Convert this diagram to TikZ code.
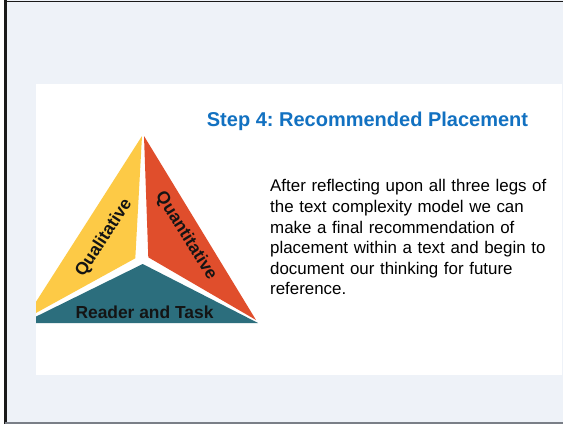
\documentclass[tikz,border=0pt]{standalone}
\usepackage{fontspec}
\setmainfont{Liberation Sans}
\usepackage{tikz}
\usetikzlibrary{positioning}
\frenchspacing
\definecolor{slideBg}{HTML}{EEF2F8}
\definecolor{frameDark}{HTML}{1A1A1A}
\definecolor{frameGrey}{HTML}{7A7F87}
\definecolor{titleBlue}{HTML}{1271C1}
\definecolor{legYellow}{HTML}{FDCA46}
\definecolor{legRed}{HTML}{E04E2C}
\definecolor{legTeal}{HTML}{2C6E7D}
\definecolor{textDark}{HTML}{141414}

\begin{document}
\begin{tikzpicture}[
      x=1pt, y=-1pt,
      leglabel/.style={
        text=textDark, inner sep=0pt,
        font=\fontsize{17.4pt}{19pt}\selectfont\bfseries
      },
      titletext/.style={
        text=titleBlue, inner sep=0pt,
        font=\fontsize{20pt}{24pt}\selectfont\bfseries
      },
      bodytext/.style={
        text=black, inner sep=0pt, align=left, text width=290pt,
        font=\fontsize{16.9pt}{20.6pt}\selectfont
      }
    ]
      \useasboundingbox (0,0) rectangle (563,424);
      % slide background and frame
      \fill[slideBg] (5,0) rectangle (563,424);
      \draw[frameDark, line width=1.6pt] (4,1.5) -- (563,1.5);
      \draw[frameDark, line width=2.4pt] (5.5,0) -- (5.5,424);
      \draw[frameGrey, line width=2pt] (5,423) -- (563,423);
      \fill[white] (36,84) rectangle (562,375);

      % the three legs, cut off at the panel's left edge
      \begin{scope}
        \clip (36,84) rectangle (562,375);
        \fill[legYellow] (142,136) -- (135.3,258.3) -- (25,319) -- cycle;
        \fill[legRed] (144,136) -- (256,320) -- (148.3,257.3) -- cycle;
        \fill[legTeal] (142.7,264) -- (258,323) -- (23,323) -- cycle;
      \end{scope}

      \node[leglabel, rotate=57] (qual) at (104,238) {Qualitative};
      \node[leglabel, rotate=-58] (quant) at (186,236) {Quantitative};
      \node[leglabel] (reader) at (144.5,312) {Reader and Task};

      \node[titletext] (title) at (367.5,121) {Step 4: Recommended Placement};
      \node[bodytext, anchor=north west] (body) at (270,179.5)
        {After reflecting upon all three legs of\\
         the text complexity model we can\\
         make a final recommendation of\\
         placement within a text and begin to\\
         document our thinking for future\\
         reference.};
    \end{tikzpicture}
\end{document}
